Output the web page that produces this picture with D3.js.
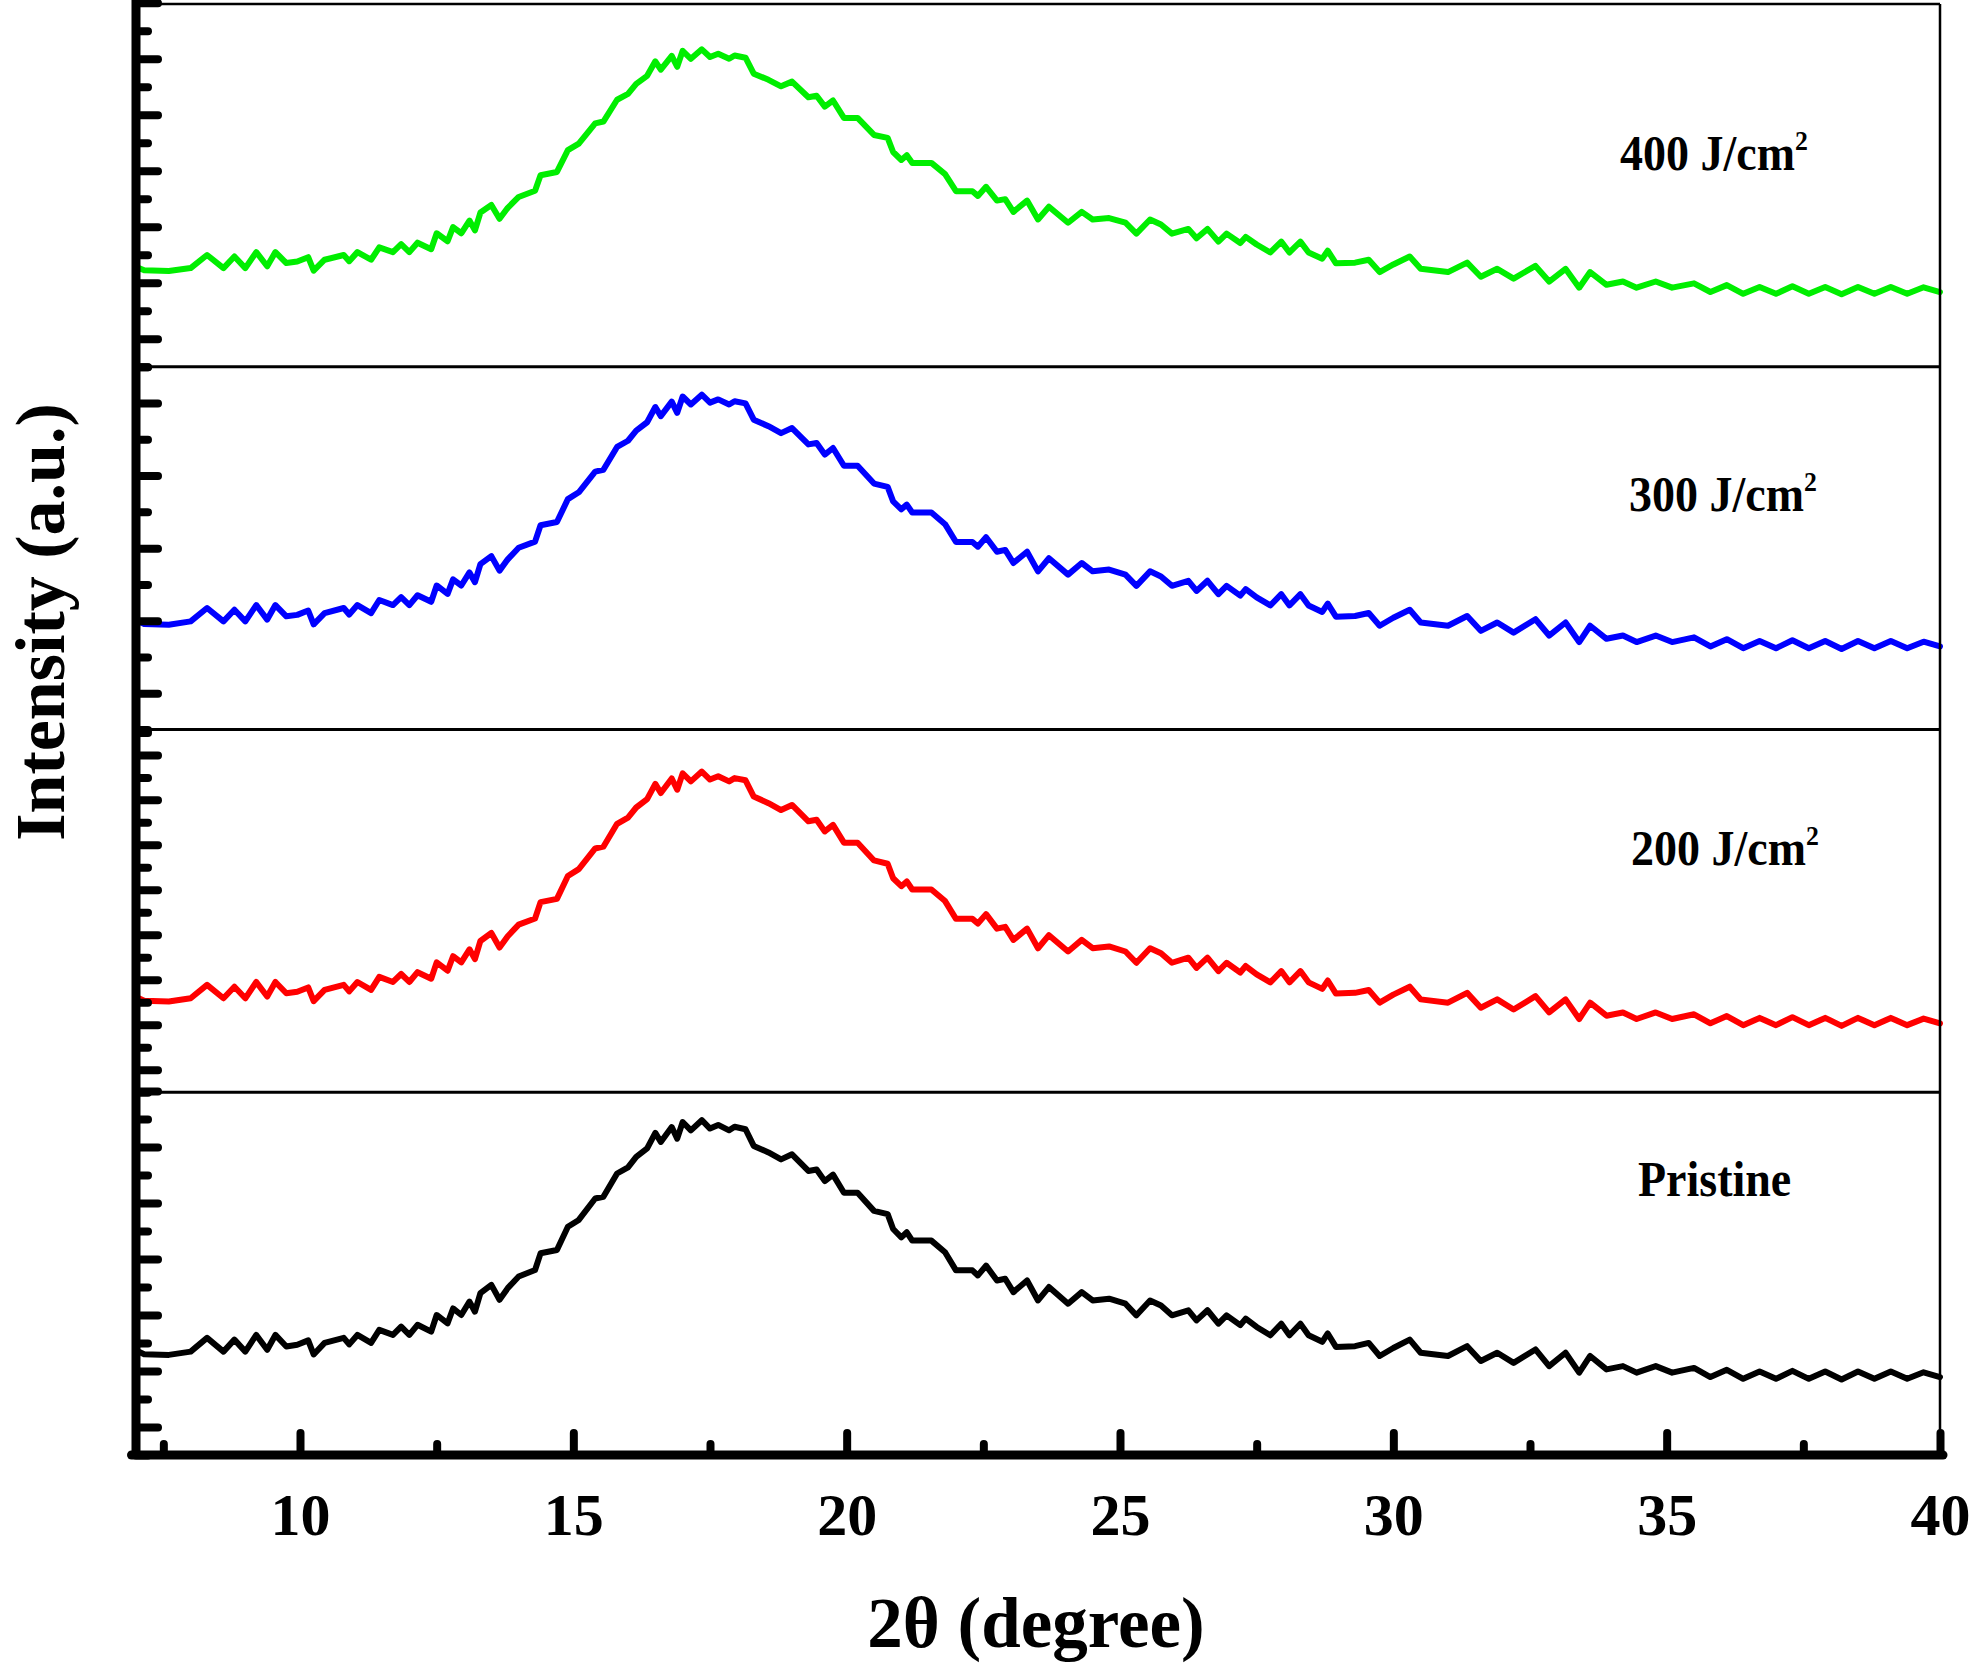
<!DOCTYPE html>
<html><head><meta charset="utf-8">
<script src="https://cdn.jsdelivr.net/npm/d3@7"></script>
<style>body{margin:0;background:#fff}</style></head>
<body><svg id="c" width="1969" height="1664"></svg>
<script>
// ---- data (2θ in degrees, intensity in panel units 0..100) ----
const twoTheta = [
7.0,7.05,7.15,7.6,8.0,8.3,8.6,8.8,9.0,9.2,
9.4,9.55,9.75,9.95,10.15,10.25,10.45,10.8,10.9,11.05,
11.3,11.45,11.7,11.85,12.0,12.15,12.4,12.5,12.7,12.8,
12.95,13.1,13.2,13.3,13.5,13.65,13.8,14.0,14.3,14.4,
14.7,14.9,15.1,15.4,15.55,15.8,16.0,16.15,16.35,16.5,
16.6,16.8,16.9,17.0,17.15,17.35,17.5,17.65,17.85,17.95,
18.15,18.3,18.57,18.8,19.0,19.3,19.45,19.6,19.75,19.95,
20.2,20.5,20.75,20.85,21.0,21.1,21.2,21.55,21.8,22.0,
22.3,22.4,22.55,22.75,22.9,23.05,23.3,23.5,23.7,24.05,
24.3,24.5,24.8,25.1,25.3,25.55,25.75,25.95,26.25,26.4,
26.6,26.8,26.95,27.2,27.3,27.5,27.75,27.95,28.1,28.3,
28.45,28.7,28.8,28.95,29.3,29.55,29.75,30.0,30.3,30.5,
31.0,31.35,31.6,31.9,32.2,32.6,32.85,33.15,33.4,33.6,
33.9,34.2,34.45,34.8,35.1,35.5,35.8,36.1,36.4,36.7,
37.0,37.3,37.6,37.9,38.2,38.5,38.8,39.1,39.4,39.7,
40.0];

const pristine = [
27.0,28.5,27.8,27.6,28.5,32.3,28.5,31.8,28.5,33.1,
29.0,33.1,29.9,30.4,31.6,27.7,30.9,32.3,30.5,33.1,
30.9,34.5,33.1,35.4,33.1,35.9,34.0,38.6,36.3,40.4,
38.6,42.3,39.5,44.6,46.9,42.8,46.0,49.2,51.0,55.6,
56.5,62.9,64.8,70.7,71.2,77.6,79.3,82.2,84.5,88.8,
86.3,90.4,87.2,91.8,89.5,92.3,90.0,91.0,89.5,90.5,
89.8,85.2,83.4,81.5,82.9,78.3,78.7,75.5,77.3,72.3,
72.3,67.3,66.4,62.3,60.0,61.4,59.1,59.1,55.9,50.9,
50.9,49.5,52.2,48.1,48.6,44.9,48.1,42.6,46.3,41.7,
44.9,42.6,43.1,41.7,38.5,42.6,41.2,38.5,39.9,37.1,
39.9,36.2,38.5,35.8,37.6,35.3,33.0,36.2,33.0,36.2,
33.0,31.2,33.5,29.8,30.0,30.9,27.3,29.5,31.8,28.2,
27.3,30.0,25.9,28.2,25.4,29.1,24.5,28.2,22.7,27.3,
23.6,24.5,22.7,24.5,22.7,24.0,21.5,23.5,21.0,23.0,
21.0,23.2,21.0,23.0,20.8,23.0,21.0,23.0,21.0,22.8,
21.5];

const j200 = [
24.4,25.9,25.2,25.0,25.9,29.6,25.9,29.1,25.9,30.4,
26.4,30.4,27.3,27.7,28.9,25.1,28.2,29.6,27.8,30.4,
28.2,31.8,30.4,32.6,30.4,33.1,31.3,35.8,33.5,37.5,
35.8,39.4,36.7,41.7,43.9,39.9,43.0,46.2,47.9,52.4,
53.3,59.6,61.5,67.2,67.7,74.0,75.7,78.5,80.8,85.0,
82.5,86.5,83.4,87.9,85.7,88.4,86.2,87.1,85.7,86.6,
86.0,81.5,79.7,77.8,79.2,74.7,75.1,71.9,73.7,68.8,
68.8,63.9,63.0,59.0,56.8,58.1,55.9,55.9,52.7,47.8,
47.8,46.5,49.1,45.1,45.6,42.0,45.1,39.7,43.3,38.8,
42.0,39.7,40.2,38.8,35.7,39.7,38.3,35.7,37.1,34.3,
37.1,33.4,35.7,33.0,34.8,32.5,30.3,33.4,30.3,33.4,
30.3,28.5,30.8,27.2,27.4,28.2,24.7,26.9,29.1,25.6,
24.7,27.4,23.3,25.6,22.8,26.5,22.0,25.6,20.2,24.7,
21.1,22.0,20.2,22.0,20.2,21.5,19.0,21.0,18.5,20.5,
18.5,20.7,18.5,20.5,18.3,20.5,18.5,20.5,18.5,20.3,
19.0];

const j300 = [
28.3,29.8,29.1,28.9,29.8,33.5,29.8,33.0,29.8,34.3,
30.3,34.3,31.2,31.6,32.8,29.0,32.1,33.5,31.7,34.3,
32.1,35.7,34.3,36.5,34.3,37.0,35.2,39.7,37.4,41.4,
39.7,43.3,40.6,45.6,47.8,43.8,46.9,50.1,51.8,56.3,
57.2,63.5,65.4,71.1,71.6,77.9,79.6,82.4,84.7,88.9,
86.4,90.4,87.3,91.8,89.6,92.3,90.1,91.0,89.6,90.5,
89.9,85.4,83.6,81.7,83.1,78.6,79.0,75.8,77.6,72.7,
72.7,67.8,66.9,62.9,60.7,62.0,59.8,59.8,56.6,51.7,
51.7,50.4,53.0,49.0,49.5,45.9,49.0,43.6,47.2,42.7,
45.9,43.6,44.1,42.7,39.6,43.6,42.2,39.6,41.0,38.2,
41.0,37.3,39.6,36.9,38.7,36.4,34.2,37.3,34.2,37.3,
34.2,32.4,34.7,31.1,31.3,32.1,28.6,30.8,33.0,29.5,
28.6,31.3,27.2,29.5,26.7,30.4,25.9,29.5,24.1,28.6,
25.0,25.9,24.1,25.9,24.1,25.4,22.9,24.9,22.4,24.4,
22.4,24.6,22.4,24.4,22.2,24.4,22.4,24.4,22.4,24.2,
22.9];

const j400 = [
25.8,27.2,26.6,26.4,27.2,30.8,27.2,30.4,27.2,31.6,
27.7,31.6,28.6,29.0,30.2,26.5,29.5,30.8,29.1,31.6,
29.5,32.9,31.6,33.8,31.6,34.2,32.4,36.8,34.6,38.5,
36.8,40.3,37.6,42.5,44.6,40.8,43.8,46.8,48.5,52.8,
53.7,59.7,61.5,67.1,67.6,73.6,75.2,78.0,80.2,84.2,
81.9,85.7,82.7,87.1,84.9,87.5,85.4,86.3,84.9,85.8,
85.2,80.8,79.1,77.3,78.6,74.3,74.7,71.7,73.4,68.6,
68.6,63.9,63.1,59.2,57.0,58.3,56.2,56.2,53.1,48.4,
48.4,47.1,49.6,45.8,46.2,42.7,45.8,40.6,44.1,39.7,
42.7,40.6,41.0,39.7,36.7,40.6,39.2,36.7,38.0,35.4,
38.0,34.5,36.7,34.1,35.8,33.7,31.5,34.5,31.5,34.5,
31.5,29.8,32.0,28.5,28.7,29.5,26.1,28.2,30.4,27.0,
26.1,28.7,24.8,27.0,24.3,27.8,23.5,27.0,21.8,26.1,
22.6,23.5,21.8,23.5,21.8,23.0,20.6,22.5,20.1,22.0,
20.1,22.2,20.1,22.0,20.0,22.0,20.1,22.0,20.1,21.9,
20.6];

const seriesNames = ["400 J/cm", "300 J/cm", "200 J/cm", "Pristine"];
const seriesSup = ["2", "2", "2", ""];
const seriesValues = [j400, j300, j200, pristine];
const seriesColors = ["#00ee00", "#0000ff", "#ff0000", "#000000"];

const xMajorTicks = [10, 15, 20, 25, 30, 35, 40];
const xMinorTicks = [7.5, 12.5, 17.5, 22.5, 27.5, 32.5, 37.5];

// y ticks of each stacked panel (panel units)
const yMajorA = [7.72, 23.16, 38.6, 54.04, 69.48, 84.92, 100.36];
const yMinorA = [0, 15.44, 30.88, 46.32, 61.76, 77.2, 92.64];
const yMajorB = [10, 30, 50, 70, 90];
const yMinorB = [0, 20, 40, 60, 80, 100];
const yMajorC = [6.2, 18.6, 31, 43.4, 55.8, 68.2, 80.6, 93];
const yMinorC = [0, 12.4, 24.8, 37.2, 49.6, 62, 74.4, 86.8, 99.2];
const panelMajor = [yMajorA, yMajorB, yMajorC, yMajorA];
const panelMinor = [yMinorA, yMinorB, yMinorC, yMinorA];

// ---- layout ----
const L = 136, R = 1940, T = 4, B = 1455;
const panelH = (B - T) / 4;
const FONT = "'Liberation Serif','Times New Roman',Times,serif";
const svg = d3.select("#c");
const x = d3.scaleLinear().domain([7, 40]).range([L, R]);

const gCurves = svg.append("g");
const gFrame = svg.append("g");

seriesValues.forEach((vals, i) => {
  const y = d3.scaleLinear().domain([0, 100]).range([T + (i + 1) * panelH, T + i * panelH]);
  const line = d3.line().x(d => x(d[0])).y(d => y(d[1]));
  gCurves.append("path")
    .datum(d3.zip(twoTheta, vals))
    .attr("d", line)
    .attr("fill", "none")
    .attr("stroke", seriesColors[i])
    .attr("stroke-width", 6)
    .attr("stroke-linejoin", "round")
    .attr("stroke-linecap", "round");

  // panel separator
  if (i < 3) {
    gFrame.append("line")
      .attr("x1", L).attr("x2", R)
      .attr("y1", y(0)).attr("y2", y(0))
      .attr("stroke", "#000").attr("stroke-width", 3);
  }

  // y ticks (inward)
  const minorAx = d3.axisLeft(y).tickValues(panelMinor[i]).tickSize(-12).tickFormat("");
  const majorAx = d3.axisLeft(y).tickValues(panelMajor[i]).tickSize(-22).tickFormat("");
  [minorAx, majorAx].forEach(ax => {
    const g = gFrame.append("g").attr("transform", `translate(${L},0)`).call(ax);
    g.select(".domain").remove();
    g.selectAll("line").attr("stroke", "#000").attr("stroke-width", 8).attr("stroke-linecap", "round");
  });

  // label
  const lx = [1620, 1629, 1631, 1638][i];
  const ly = [170, 511, 865, 1196][i];
  const t = svg.append("g").attr("transform", `translate(${lx},${ly}) scale(0.92,1)`)
    .append("text")
    .attr("font-family", FONT).attr("font-weight", "bold").attr("font-size", 50)
    .attr("fill", "#000");
  t.append("tspan").text(seriesNames[i]);
  if (seriesSup[i]) t.append("tspan").attr("dy", -20).attr("font-size", 28).text(seriesSup[i]);
});

// top and right border
gFrame.append("line").attr("x1", L).attr("x2", R).attr("y1", T).attr("y2", T)
  .attr("stroke", "#000").attr("stroke-width", 2.5);
gFrame.append("line").attr("x1", R).attr("x2", R).attr("y1", T).attr("y2", B)
  .attr("stroke", "#000").attr("stroke-width", 2.5);

// x axis ticks
const xMinorAx = d3.axisBottom(x).tickValues(xMinorTicks).tickSize(-11).tickFormat("");
const xMajorAx = d3.axisBottom(x).tickValues(xMajorTicks).tickSize(-22).tickFormat(d3.format("d"));
[xMinorAx, xMajorAx].forEach(ax => {
  const g = gFrame.append("g").attr("transform", `translate(0,${B})`).call(ax);
  g.select(".domain").remove();
  g.selectAll("line").attr("stroke", "#000").attr("stroke-width", 8).attr("stroke-linecap", "round");
  g.selectAll("text").attr("y", 80).attr("dy", null)
    .attr("font-family", FONT).attr("font-weight", "bold").attr("font-size", 60).attr("fill", "#000");
});

// main axis lines (thick)
gFrame.append("line").attr("x1", L).attr("x2", L).attr("y1", 0).attr("y2", B + 4)
  .attr("stroke", "#000").attr("stroke-width", 9);
gFrame.append("line").attr("x1", L - 4.5).attr("x2", R + 3).attr("y1", B).attr("y2", B)
  .attr("stroke", "#000").attr("stroke-width", 9).attr("stroke-linecap", "round");

// axis titles
svg.append("text").attr("x", 1036).attr("y", 1647).attr("text-anchor", "middle")
  .attr("font-family", FONT).attr("font-weight", "bold").attr("font-size", 71)
  .text("2θ (degree)");
svg.append("text").attr("transform", "translate(64,622) rotate(-90)").attr("text-anchor", "middle")
  .attr("font-family", FONT).attr("font-weight", "bold").attr("font-size", 70)
  .text("Intensity (a.u.)");
</script>
</body></html>
